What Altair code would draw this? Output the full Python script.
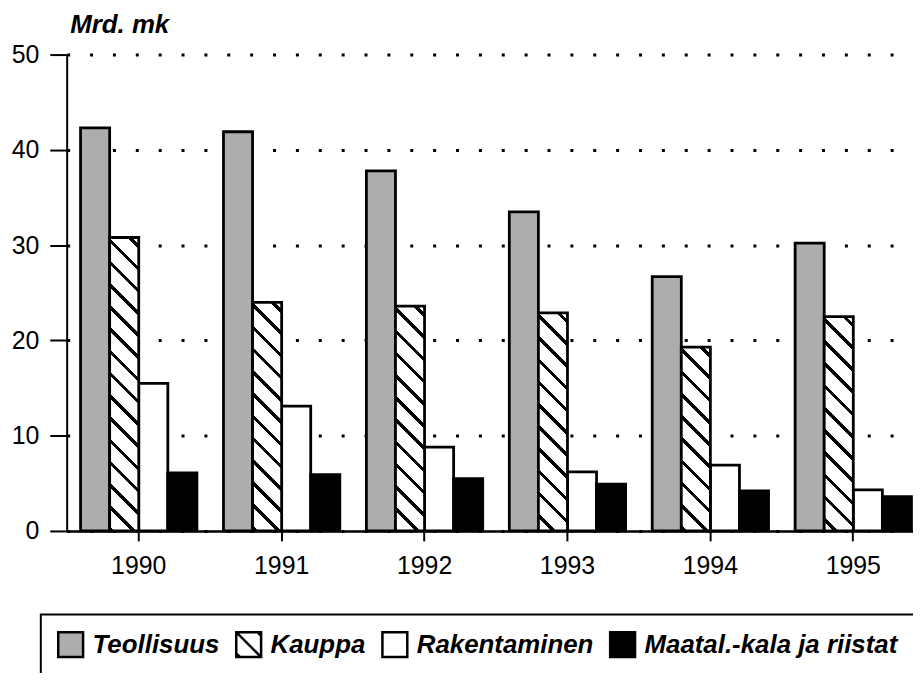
import math
import altair as alt
import pandas as pd

# ---- data ----
years = ["1990", "1991", "1992", "1993", "1994", "1995"]
categories = ["Teollisuus", "Kauppa", "Rakentaminen", "Maatal.-kala ja riistat"]
teollisuus = [42.3, 41.9, 37.8, 33.5, 26.7, 30.2]
kauppa = [30.8, 24.0, 23.6, 22.9, 19.3, 22.5]
rakentaminen = [15.5, 13.1, 8.8, 6.2, 6.9, 4.3]
maatal = [6.1, 5.9, 5.5, 4.9, 4.2, 3.6]
y_ticks = [0, 10, 20, 30, 40, 50]

series = [teollisuus, kauppa, rakentaminen, maatal]
df = pd.DataFrame(
    [{"year": y, "cat": c, "value": v}
     for c, vals in zip(categories, series)
     for y, v in zip(years, vals)]
)

# ---- layout / style ----
W, H = 851, 479
Y_MAX = 50
P_IN, P_OUT, ALIGN = 0.186, 0.054, 0.9
FONT = "Liberation Sans"
BAR_STROKE = 2.8
fills = ["#adadad", "white", "white", "black"]
outlines = ["black", "black", "black", "black"]
paths = [
    "M-1,-1H1V1H-1Z",
    "M-1,-1H1V1H-1ZM-1,-1L1,1M0.7,-1L1,-0.7M-1,0.7L-0.7,1",
    "M-1,-1H1V1H-1Z",
    "M-1,-1H1V1H-1Z",
]


def hatch(value):
    step = W / (len(years) - P_IN + 2 * P_OUT)
    w = step * (1 - P_IN) / len(categories)
    h = value * H / Y_MAX
    t = (w + h) / (w * w + h * h)
    L = (w + h) / math.sqrt(2)
    period, thick = 15.8, 3.3
    stops = [alt.GradientStop(offset=0, color="white")]
    d = 5.0
    while d < L:
        a = d / L
        b = min((d + thick) / L, 1.0)
        stops += [
            alt.GradientStop(offset=a, color="white"),
            alt.GradientStop(offset=a, color="black"),
            alt.GradientStop(offset=b, color="black"),
            alt.GradientStop(offset=b, color="white"),
        ]
        d += period
    stops.append(alt.GradientStop(offset=1, color="white"))
    return alt.LinearGradient(gradient="linear", x1=1, y1=0,
                              x2=1 - w * t, y2=h * t, stops=stops)


x_enc = alt.X(
    "year:N",
    scale=alt.Scale(domain=years, paddingInner=P_IN, paddingOuter=P_OUT, align=ALIGN),
    axis=alt.Axis(title=None, labelAngle=0, tickSize=10, tickWidth=2, tickColor="black",
                  domainColor="black", domainWidth=2.5, labelFont=FONT, labelFontSize=25,
                  labelColor="black", labelPadding=13, grid=False),
)
xoff_enc = alt.XOffset("cat:N", scale=alt.Scale(domain=categories, paddingInner=0, paddingOuter=0))
y_enc = alt.Y(
    "value:Q",
    scale=alt.Scale(domain=[0, Y_MAX]),
    axis=alt.Axis(values=y_ticks, tickSize=17, tickWidth=2, tickColor="black",
                  domainColor="black", domainWidth=2, labelFont=FONT, labelFontSize=25,
                  labelColor="black", labelPadding=11, grid=True, gridColor="black",
                  gridDash=[3, 20], gridWidth=3, title="Mrd. mk", titleAngle=0,
                  titleAlign="left", titleBaseline="alphabetic", titleX=3, titleY=-22,
                  titleFont=FONT, titleFontSize=26, titleFontStyle="italic",
                  titleFontWeight="bold", titleColor="black"),
)

legend = alt.Legend(
    title=None, orient="none", legendX=-26, legendY=563, direction="horizontal",
    columns=4, padding=16, strokeColor="black", labelFont=FONT, labelFontSize=26,
    labelFontStyle="italic", labelFontWeight="bold", labelColor="black",
    labelOffset=8, labelLimit=600, symbolSize=625, symbolStrokeWidth=2.5,
    symbolOpacity=1, columnPadding=11,
)

# points hidden behind the bars; they only carry the legend symbols
legend_pts = alt.Chart(df).mark_point(
    filled=False, opacity=1, size=1, strokeWidth=2.5, yOffset=15
).encode(
    x=x_enc, xOffset=xoff_enc, y=y_enc,
    fill=alt.Fill("cat:N", scale=alt.Scale(domain=categories, range=fills), legend=legend),
    stroke=alt.Stroke("cat:N", scale=alt.Scale(domain=categories, range=outlines), legend=legend),
    shape=alt.Shape("cat:N", scale=alt.Scale(domain=categories, range=paths), legend=legend),
)

plain_bars = alt.Chart(df).transform_filter(
    alt.datum.cat != "Kauppa"
).mark_bar(stroke="black", strokeWidth=BAR_STROKE).encode(
    x=x_enc, xOffset=xoff_enc, y=y_enc,
    color=alt.Color("cat:N", scale=alt.Scale(domain=categories, range=fills), legend=None),
)

layers = [legend_pts, plain_bars]
for yr, v in zip(years, kauppa):
    layers.append(
        alt.Chart(df).transform_filter(
            (alt.datum.cat == "Kauppa") & (alt.datum.year == yr)
        ).mark_bar(fill=hatch(v), stroke="black", strokeWidth=BAR_STROKE).encode(
            x=x_enc, xOffset=xoff_enc, y=y_enc
        )
    )

chart = alt.layer(*layers).properties(
    width=W, height=H,
    autosize=alt.AutoSizeParams(type="none"),
    padding={"left": 59, "top": 45, "right": 0, "bottom": 141},
).configure_view(strokeWidth=0).configure_legend(strokeWidth=2)

chart.save("out.html", embed_options={"renderer": "svg", "actions": False})
